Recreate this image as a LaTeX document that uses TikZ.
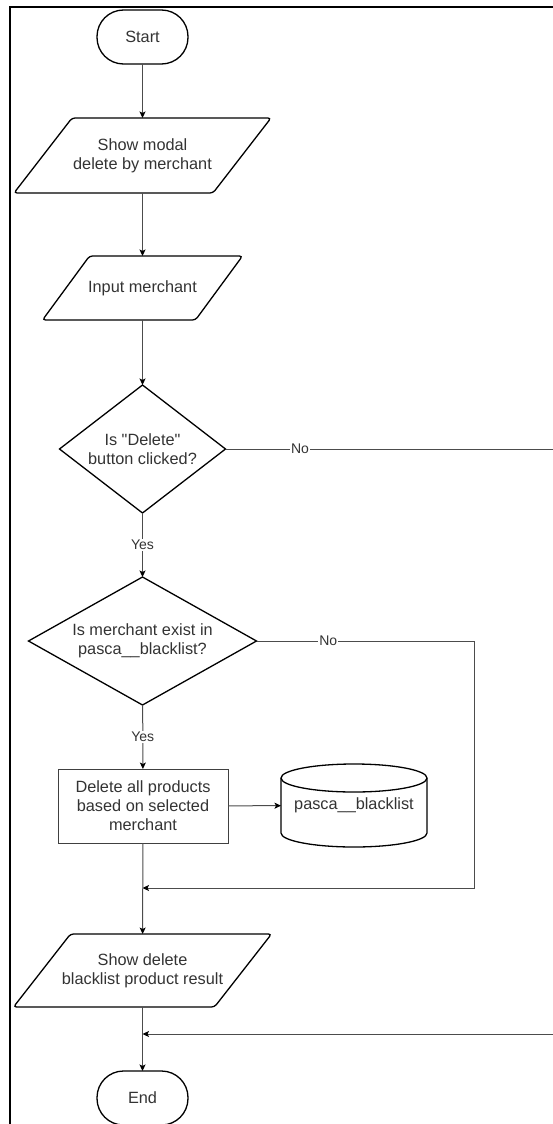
\documentclass[tikz,border=0pt]{standalone}
\usepackage{fontspec}
% family without the TeX quote mapping, so " stays a straight quote
\newfontfamily\chartfont{Liberation Sans}
\usetikzlibrary{shapes.geometric,arrows.meta}

% Outline of an input/output parallelogram around a helper node:
% #1 = node name, #2 = horizontal slant of the sides
\newcommand{\ioshape}[2]{%
  \draw[ioline] ([xshift=#2/2]#1.north west) -- ([xshift=#2/2]#1.north east)
    -- ([xshift=-#2/2]#1.south east) -- ([xshift=-#2/2]#1.south west) -- cycle;}

\begin{document}
\begin{tikzpicture}[x=1pt,y=-1pt,
  every node/.style={font=\chartfont\fontsize{16.3}{19}\selectfont, text=black!80},
  base/.style={draw=black, line width=1.3pt, outer sep=0pt, inner sep=0pt, align=center},
  terminal/.style={base, minimum width=91pt, minimum height=54pt, rounded corners=26.5pt},
  iobody/.style={outer sep=0pt, inner sep=0pt, align=center},
  ioline/.style={draw=black, line width=1.3pt, rounded corners=3pt},
  decision/.style={base, diamond},
  process/.style={draw=black!75, line width=1pt, outer sep=0pt, inner sep=0pt,
    align=center, minimum width=170pt, minimum height=74pt},
  store/.style={outer sep=0pt, inner sep=0pt, minimum width=146pt, minimum height=83pt},
  dbline/.style={draw=black, line width=1.3pt},
  flow/.style={draw=black!70, line width=1pt,
    -{Stealth[length=6.5pt,width=6pt,inset=1.5pt,color=black,fill=black]}},
  yesno/.style={font=\chartfont\fontsize{14}{16}\selectfont, fill=white, inner sep=1pt, text=black!80},
]
\useasboundingbox (0,0) rectangle (553,1124);

% page frame
\draw[line width=2pt, black, line join=miter] (10,1140) -- (10,7) -- (570,7);

% nodes
\node[terminal] (start) at (142.5,37) {Start};

\node[iobody, minimum width=199pt, minimum height=75pt] (modal) at (142.5,155.5)
  {Show modal\\delete by merchant};
\ioshape{modal}{58pt}

\node[iobody, minimum width=153pt, minimum height=64pt] (input) at (142.5,288)
  {Input merchant};
\ioshape{input}{47pt}

\node[decision, shape aspect=1.3, minimum width=166pt, minimum height=128pt] (d1) at (142.5,449)
  {Is "Delete"\\button clicked?};

\node[decision, shape aspect=1.78, minimum width=228pt, minimum height=128pt] (d2) at (142.5,641)
  {Is merchant exist in\\pasca\_\_blacklist?};

\node[process] (del) at (143,806)
  {Delete all products\\based on selected\\merchant};

\node[store] (db) at (354,805.5) {pasca\_\_blacklist};
\draw[dbline] ([yshift=-14pt]db.north west) -- ([yshift=14pt]db.south west)
  arc[start angle=180, end angle=360, x radius=73pt, y radius=14pt]
  -- ([yshift=-14pt]db.north east)
  arc[start angle=0, end angle=180, x radius=73pt, y radius=14pt] -- cycle;
\draw[dbline] ([yshift=-14pt]db.north west)
  arc[start angle=180, end angle=360, x radius=73pt, y radius=14pt];

\node[iobody, minimum width=201pt, minimum height=73pt] (result) at (142.5,970.5)
  {Show delete\\blacklist product result};
\ioshape{result}{57pt}

\node[terminal] (end) at (142.5,1098) {End};

% junctions and bends
\coordinate (j1) at (142.5,888);
\coordinate (j2) at (142.5,1034);
\coordinate (bendA) at (580,449);
\coordinate (bendB) at (474,641);

% connectors
\draw[flow] (start) -- (modal);
\draw[flow] (modal) -- (input);
\draw[flow] (input) -- (d1);
\draw[flow] (d1) -- node[yesno]{Yes} (d2);
\draw[flow] (d1.east) -- node[yesno, pos=0.21]{No} (bendA) |- (j2);
\draw[flow] (d2.east) -- node[yesno, pos=0.33]{No} (bendB) |- (j1);
\draw[flow] (d2) -- node[yesno]{Yes} (del);
\draw[flow] (del) -- (db);
\draw[flow] (del) -- (result);
\draw[flow] (result) -- (end);
\end{tikzpicture}
\end{document}
